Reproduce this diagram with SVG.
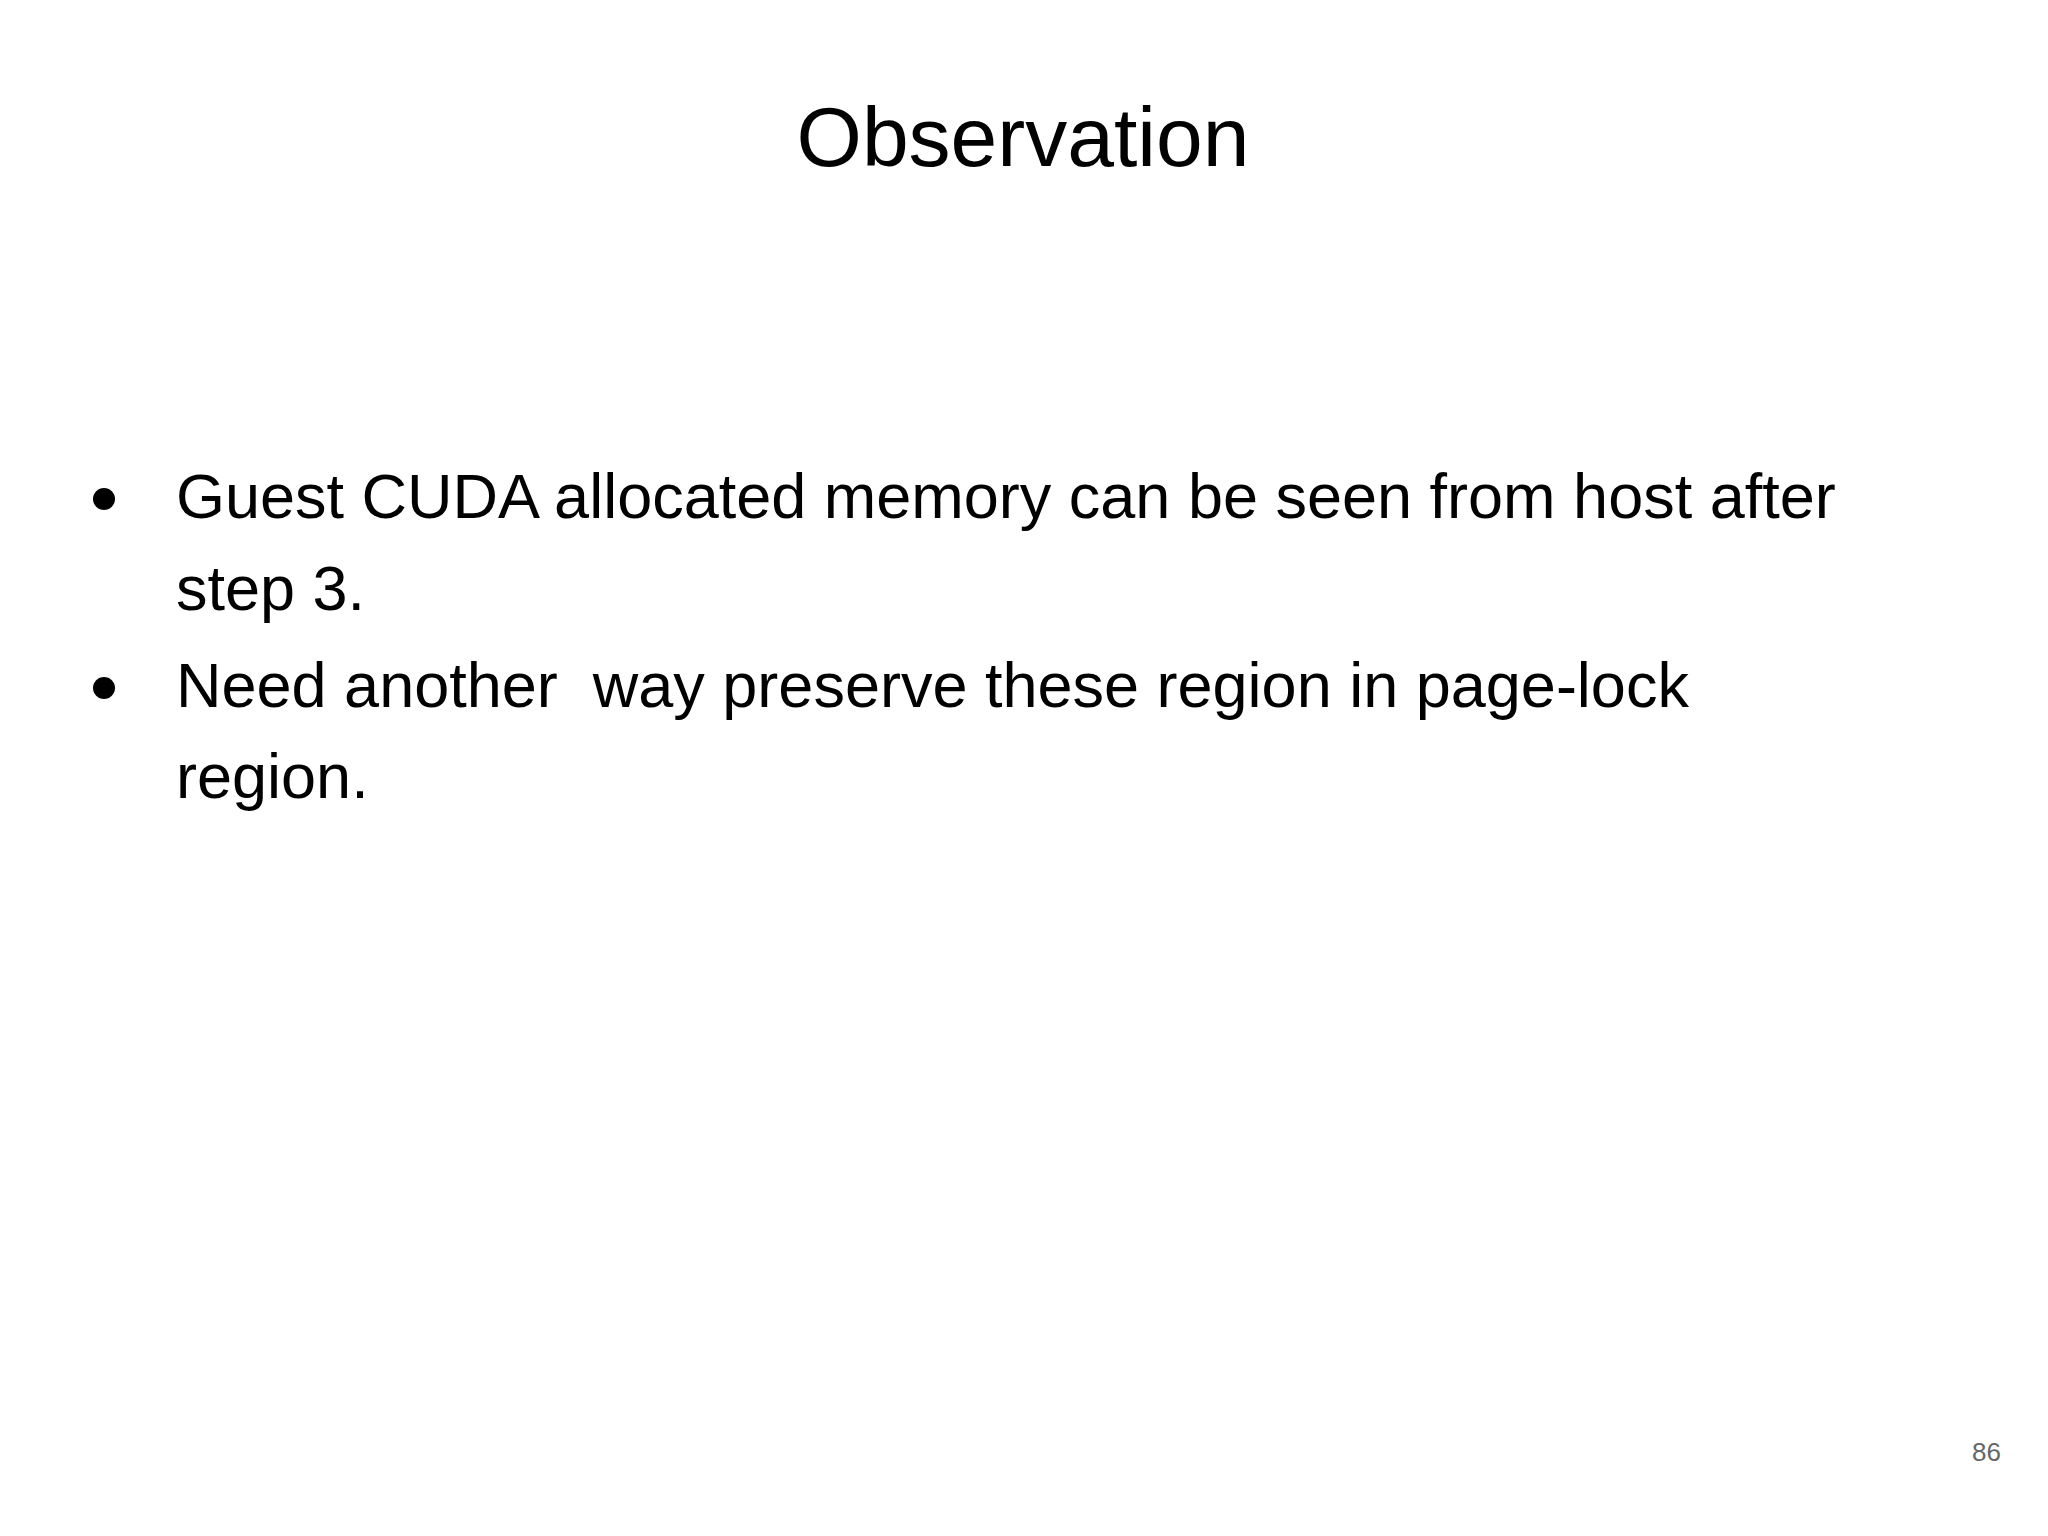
<svg xmlns="http://www.w3.org/2000/svg" width="2048" height="1536" viewBox="0 0 2048 1536">
<style>
text{font-family:"Liberation Sans",Arial,sans-serif;fill:#000}
.b{font-size:63px}
</style>
<rect width="2048" height="1536" fill="#fff"/>
<g id="title"><text x="1023" y="166" font-size="84" text-anchor="middle">Observation</text></g>
<g id="bullets">
<circle cx="104" cy="499" r="11"/>
<text class="b" x="176" y="518">Guest CUDA allocated memory can be seen from host after</text>
<text class="b" x="176" y="610">step 3.</text>
<circle cx="104" cy="688" r="11"/>
<text class="b" x="176" y="707" xml:space="preserve">Need another  way preserve these region in page-lock</text>
<text class="b" x="176" y="798">region.</text>
</g>
<g id="page"><text x="2001" y="1461" font-size="26" fill="#666" style="fill:#666" text-anchor="end">86</text></g>
</svg>
